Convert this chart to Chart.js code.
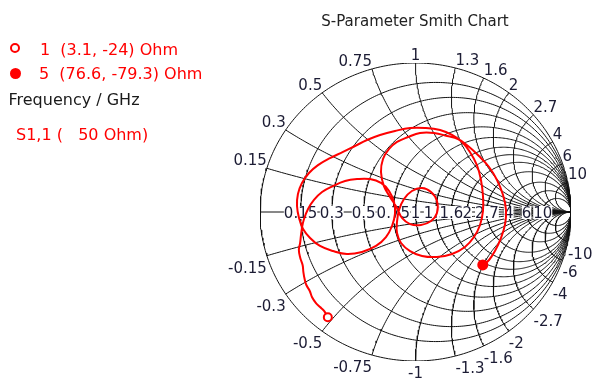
<!DOCTYPE html>
<html>
<head>
<meta charset="utf-8">
<script src="https://cdn.jsdelivr.net/npm/chart.js@4.4.0/dist/chart.umd.min.js"></script>
<style>
  html, body { margin: 0; padding: 0; background: #fff; }
  #wrap { position: relative; width: 592px; height: 381px; font-family: "DejaVu Sans", sans-serif; overflow: hidden; }
  #smith { position: absolute; left: 0; top: 0; }
  .txt { position: absolute; white-space: pre; font-size: 16px; line-height: 16px; color: #f00; }
  .title { position: absolute; left: 265px; width: 300px; top: 14px; text-align: center; font-size: 15px; line-height: 15px; color: #222; white-space: pre; }
  .mk { position: absolute; border-radius: 50%; box-sizing: border-box; }
</style>
</head>
<body>
<div id="wrap">
  <canvas id="smith" width="592" height="381"></canvas>
  <div class="title">S-Parameter Smith Chart</div>
  <span class="mk" style="left:10px;top:43px;width:10px;height:10px;border:2px solid #f00;background:#fff;"></span>
  <div class="txt" id="mk1" style="left:40px;top:41.5px;"></div>
  <span class="mk" style="left:9.5px;top:67.5px;width:11px;height:11px;background:#f00;"></span>
  <div class="txt" id="mk5" style="left:39px;top:66px;"></div>
  <div class="txt" style="left:8.5px;top:91.5px;color:#1a1a1a;">Frequency / GHz</div>
  <div class="txt" style="left:16px;top:126.5px;">S1,1 (   50 Ohm)</div>
</div>
<script>
// grid values (normalised resistance / reactance)
var rGrid = [0.15, 0.3, 0.5, 0.75, 1, 1.3, 1.6, 2, 2.7, 4, 6, 10];
var xGrid = [0.15, 0.3, 0.5, 0.75, 1, 1.3, 1.6, 2, 2.7, 4, 6, 10];
var z0 = 50;

// markers (Ohm)
var markerNames = ["1", "5"];
var markerR = [3.1, 76.6];
var markerX = [-24, -79.3];

// S1,1 trace, reflection coefficient
var traceRe = [-0.564, -0.588, -0.614, -0.640, -0.666, -0.680, -0.702, -0.713, -0.721, -0.726, -0.741, -0.750, -0.742, -0.737, -0.730,
  -0.717, -0.691, -0.653, -0.601, -0.531, -0.453, -0.376, -0.293, -0.222, -0.170, -0.138, -0.132, -0.151, -0.190, -0.254, -0.344, -0.441, -0.531, -0.614, -0.678, -0.723,
  -0.749, -0.762, -0.756, -0.730, -0.685, -0.627, -0.550, -0.466, -0.389, -0.312, -0.228, -0.132, -0.035, 0.061, 0.158, 0.235, 0.299, 0.350, 0.395, 0.421, 0.434, 0.434, 0.415, 0.376, 0.318, 0.235, 0.138, 0.042, -0.035, -0.093, -0.119, -0.119,
  -0.106, -0.074, -0.023, 0.042, 0.100, 0.138, 0.138, 0.100, 0.035, -0.035, -0.087, -0.119,
  -0.164, -0.203, -0.222, -0.209, -0.170, -0.119, -0.048, 0.029, 0.119, 0.203, 0.273, 0.338, 0.408, 0.473, 0.524, 0.563, 0.582, 0.576, 0.550, 0.511, 0.473, 0.433];
var traceIm = [-0.707, -0.664, -0.638, -0.611, -0.570, -0.530, -0.490, -0.450, -0.403, -0.356, -0.309, -0.255, -0.208, -0.161, -0.107,
  -0.047, 0.020, 0.081, 0.134, 0.174, 0.208, 0.221, 0.221, 0.195, 0.141, 0.067, -0.013, -0.094, -0.168, -0.228, -0.268, -0.282, -0.262, -0.228, -0.174, -0.114,
  -0.040, 0.040, 0.121, 0.195, 0.262, 0.315, 0.362, 0.403, 0.443, 0.483, 0.517, 0.544, 0.564, 0.564, 0.550, 0.517, 0.470, 0.403, 0.315, 0.215, 0.107, 0.007, -0.087, -0.168, -0.235, -0.282, -0.302, -0.295, -0.262, -0.208, -0.141, -0.067,
  0.013, 0.087, 0.141, 0.161, 0.134, 0.074, -0.007, -0.060, -0.087, -0.081, -0.040, 0.027,
  0.101, 0.174, 0.268, 0.356, 0.423, 0.470, 0.503, 0.530, 0.530, 0.510, 0.490, 0.443, 0.376, 0.302, 0.215, 0.114, 0.013, -0.081, -0.174, -0.262, -0.322, -0.355];

var RED = "#f00";
var GRID = "#111";
var TICK = "#1c1c34";

function gammaOf(r, x) {
  // (z-1)/(z+1) with z = r + jx
  var d = (r + 1) * (r + 1) + x * x;
  return { x: (r * r - 1 + x * x) / d, y: (2 * x) / d };
}

function rCircle(r) {
  var c = r / (1 + r), rad = 1 / (1 + r), pts = [];
  for (var k = 0; k <= 360; k++) {
    var a = (k * Math.PI) / 180;
    pts.push({ x: c + rad * Math.cos(a), y: rad * Math.sin(a) });
  }
  return pts;
}

function xArc(x) {
  var ax = Math.abs(x), s = x < 0 ? -1 : 1;
  var e = gammaOf(0, ax);
  var a0 = -Math.PI / 2;
  var a1 = Math.atan2(e.y - 1 / ax, e.x - 1);
  if (a1 > 0) a1 -= 2 * Math.PI;
  var pts = [], n = 120;
  for (var k = 0; k <= n; k++) {
    var a = a0 + ((a1 - a0) * k) / n;
    pts.push({ x: 1 + Math.cos(a) / ax, y: s * (1 / ax + Math.sin(a) / ax) });
  }
  return pts;
}

var markerPts = markerR.map(function (r, i) { return gammaOf(r / z0, markerX[i] / z0); });
document.getElementById("mk1").textContent = markerNames[0] + "  (" + markerR[0] + ", " + markerX[0] + ") Ohm";
document.getElementById("mk5").textContent = markerNames[1] + "  (" + markerR[1] + ", " + markerX[1] + ") Ohm";

var datasets = [
  { data: [markerPts[1]], pointRadius: 5.5, pointBackgroundColor: RED, pointBorderColor: RED, pointBorderWidth: 0 },
  { data: [markerPts[0]], pointRadius: 4, pointBackgroundColor: "#fff", pointBorderColor: RED, pointBorderWidth: 2 },
  {
    data: traceRe.map(function (v, i) { return { x: v, y: traceIm[i] }; }),
    showLine: true, borderColor: RED, borderWidth: 2, pointRadius: 0, tension: 0.4
  }
];
var TRACE_INDEX = 2;

var gridLine = function (pts) {
  return { data: pts, showLine: true, borderColor: GRID, borderWidth: 1, pointRadius: 0, tension: 0 };
};
datasets.push(gridLine(rCircle(0)));
datasets.push(gridLine([{ x: -1, y: 0 }, { x: 1, y: 0 }]));
rGrid.forEach(function (r) { datasets.push(gridLine(rCircle(r))); });
xGrid.forEach(function (x) {
  datasets.push(gridLine(xArc(x)));
  datasets.push(gridLine(xArc(-x)));
});

var smithLabels = {
  id: "smithLabels",
  beforeDatasetDraw: function (chart, args) {
    if (args.index !== TRACE_INDEX) return;
    var ctx = chart.ctx, xs = chart.scales.x, ys = chart.scales.y;
    ctx.save();
    ctx.font = '15px "DejaVu Sans"';
    ctx.textBaseline = "alphabetic";
    // resistance labels on the real axis
    ctx.textAlign = "center";
    var py0 = ys.getPixelForValue(0);
    rGrid.forEach(function (r) {
      var lbl = String(r);
      var px = xs.getPixelForValue((r - 1) / (r + 1));
      var w = ctx.measureText(lbl).width;
      ctx.fillStyle = "#fff";
      ctx.fillRect(px - w / 2, py0 - 6, w, 13);
      ctx.fillStyle = TICK;
      ctx.fillText(lbl, px, py0 + 6);
    });
    // reactance labels around the rim
    xGrid.forEach(function (x) {
      [x, -x].forEach(function (v) {
        var g = gammaOf(0, v);
        var px = xs.getPixelForValue(g.x), py = ys.getPixelForValue(g.y);
        ctx.textAlign = g.x < -0.01 ? "right" : g.x > 0.01 ? "left" : "center";
        ctx.fillStyle = TICK;
        ctx.fillText(String(v), px, v > 0 ? py - 3 : py + 17);
      });
    });
    ctx.restore();
  }
};

var chartSmith = new Chart(document.getElementById("smith").getContext("2d"), {
  type: "scatter",
  data: { datasets: datasets },
  options: {
    responsive: false,
    animation: false,
    devicePixelRatio: 1,
    layout: { padding: { left: 260, right: 21, top: 63, bottom: 20 } },
    scales: {
      x: { type: "linear", min: -1, max: 1, display: false },
      y: { type: "linear", min: -1, max: 1, display: false }
    },
    plugins: { legend: { display: false }, tooltip: { enabled: false } }
  },
  plugins: [smithLabels]
});
</script>
</body>
</html>
